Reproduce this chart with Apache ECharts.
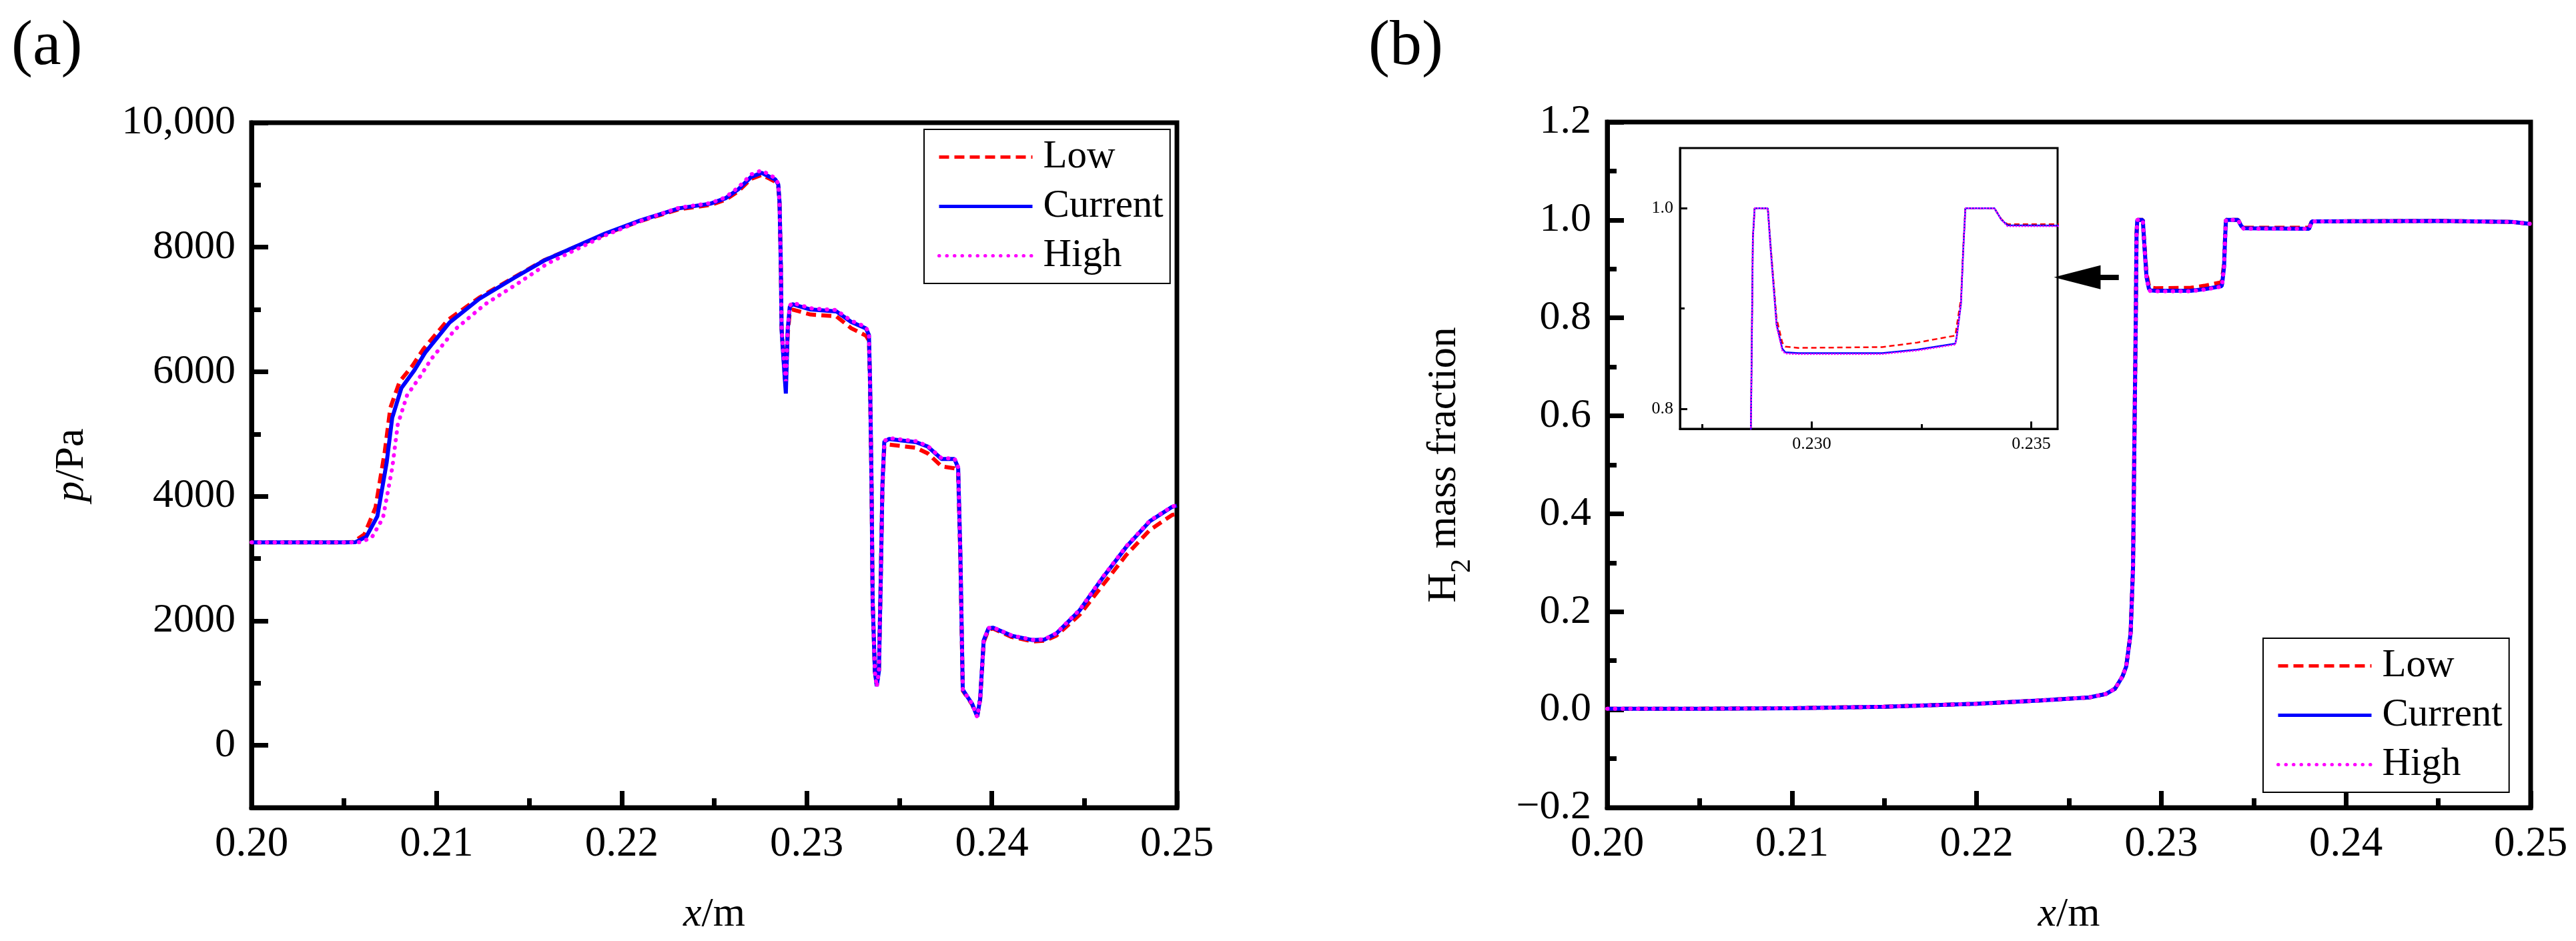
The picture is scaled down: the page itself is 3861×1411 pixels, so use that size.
<!DOCTYPE html>
<html>
<head>
<meta charset="utf-8">
<script src="https://cdn.jsdelivr.net/npm/echarts@6/dist/echarts.min.js"></script>
<style>
html, body { margin: 0; padding: 0; background: #fff; }
#chart { width: 3861px; height: 1411px; }
</style>
</head>
<body>
<div id="chart"></div>
<script>
// values
var seriesNames = ['Low', 'Current', 'High'];

var xTicks = [0.20, 0.21, 0.22, 0.23, 0.24, 0.25];
var xMinorTicks = [0.205, 0.215, 0.225, 0.235, 0.245];
var pTicks = [0, 2000, 4000, 6000, 8000, 10000];
var pMinorTicks = [1000, 3000, 5000, 7000, 9000];
var h2Ticks = [-0.2, 0, 0.2, 0.4, 0.6, 0.8, 1.0, 1.2];
var h2MinorTicks = [-0.1, 0.1, 0.3, 0.5, 0.7, 0.9, 1.1];
var insetXTicks = [0.230, 0.235];
var insetXMinorTicks = [0.2275, 0.2325];
var insetYTicks = [0.8, 1.0];
var insetYMinorTicks = [0.9];

// arrow from the zoomed curve to the inset (data coords of right panel)
var arrowLine = [[0.2277, 0.883], [0.22545, 0.883]];

// (a) pressure p/Pa vs x/m
var pLow = [[0.2000,3260],[0.2050,3260],[0.2055,3265],[0.2061,3390],[0.2067,3820],[0.2072,4720],[0.2075,5420],[0.2080,5840],[0.2087,6100],[0.2093,6370],[0.2106,6830],[0.2123,7190],[0.2142,7520],[0.2158,7790],[0.2191,8210],[0.2210,8420],[0.2231,8610],[0.2248,8680],[0.2256,8760],[0.2263,8900],[0.2270,9100],[0.22756,9160],[0.2280,9100],[0.2283,9050],[0.22846,8980],[0.22853,8700],[0.2286,7700],[0.22864,6700],[0.22873,6300],[0.22885,5780],[0.22897,6600],[0.22908,6950],[0.22922,7000],[0.2302,6920],[0.2316,6890],[0.2324,6700],[0.2332,6580],[0.23336,6500],[0.23342,5800],[0.2335,4200],[0.23356,2320],[0.23368,1195],[0.23378,980],[0.2339,1195],[0.2340,2700],[0.23409,4150],[0.23419,4800],[0.23444,4830],[0.2359,4780],[0.23653,4690],[0.23729,4480],[0.23798,4450],[0.23818,4380],[0.2383,3000],[0.23843,880],[0.23868,770],[0.23893,660],[0.23921,470],[0.23937,740],[0.23956,1660],[0.23982,1860],[0.24007,1875],[0.24108,1740],[0.24222,1670],[0.24285,1680],[0.24348,1760],[0.24475,2100],[0.24601,2580],[0.24727,3060],[0.24854,3460],[0.24974,3700],[0.2500,3720]];
var pCurrent = [[0.2000,3260],[0.2050,3260],[0.2056,3262],[0.2062,3350],[0.2068,3680],[0.2073,4540],[0.2076,5260],[0.2081,5740],[0.2088,6025],[0.2094,6315],[0.2107,6790],[0.2123,7170],[0.2142,7510],[0.2158,7785],[0.2191,8220],[0.2210,8430],[0.2231,8625],[0.2248,8700],[0.2256,8785],[0.2263,8930],[0.2270,9130],[0.22756,9195],[0.2280,9130],[0.2283,9090],[0.22846,9010],[0.22853,8720],[0.2286,7700],[0.22864,6675],[0.22873,6260],[0.22887,5650],[0.22897,6675],[0.22908,7040],[0.22922,7085],[0.2302,7000],[0.2316,6970],[0.2324,6800],[0.2332,6695],[0.23336,6590],[0.23342,5850],[0.2335,4200],[0.23356,2320],[0.23368,1195],[0.23378,950],[0.2339,1195],[0.2340,2700],[0.23409,4200],[0.23419,4880],[0.23444,4920],[0.2359,4870],[0.23653,4800],[0.23729,4600],[0.23798,4600],[0.23818,4460],[0.2383,3070],[0.23843,895],[0.23868,780],[0.23893,670],[0.23921,463],[0.23937,745],[0.23956,1685],[0.23982,1880],[0.24007,1890],[0.24108,1760],[0.24222,1690],[0.24285,1700],[0.24348,1795],[0.24475,2170],[0.24601,2700],[0.24727,3190],[0.24854,3600],[0.24974,3830],[0.2500,3850]];
var pHigh = [[0.2000,3260],[0.2050,3260],[0.2059,3262],[0.2065,3340],[0.2071,3650],[0.2076,4450],[0.2079,5150],[0.2084,5620],[0.2091,5920],[0.2097,6200],[0.2110,6680],[0.2126,7080],[0.2145,7440],[0.2160,7740],[0.2191,8190],[0.2210,8420],[0.2231,8635],[0.2248,8710],[0.2256,8800],[0.2263,8960],[0.2270,9170],[0.22756,9235],[0.2280,9160],[0.2283,9110],[0.22846,9020],[0.22853,8720],[0.2286,7700],[0.22864,6700],[0.22873,6300],[0.22887,5850],[0.22897,6700],[0.22908,7060],[0.22922,7110],[0.2302,7020],[0.2316,6990],[0.2324,6820],[0.2332,6720],[0.23336,6600],[0.23342,5850],[0.2335,4200],[0.23356,2320],[0.23368,1195],[0.23378,940],[0.2339,1195],[0.2340,2700],[0.23409,4200],[0.23419,4890],[0.23444,4935],[0.2359,4885],[0.23653,4810],[0.23729,4610],[0.23798,4610],[0.23818,4470],[0.2383,3070],[0.23843,895],[0.23868,780],[0.23893,670],[0.23921,455],[0.23937,745],[0.23956,1685],[0.23982,1885],[0.24007,1895],[0.24108,1765],[0.24222,1695],[0.24285,1705],[0.24348,1800],[0.24475,2180],[0.24601,2710],[0.24727,3200],[0.24854,3610],[0.24974,3835],[0.2500,3855]];

// (b) H2 mass fraction vs x/m
var h2Low = [[0.2000,0.002],[0.2050,0.002],[0.2100,0.003],[0.2150,0.006],[0.2200,0.012],[0.2235,0.019],[0.2261,0.025],[0.2270,0.032],[0.2275,0.043],[0.2279,0.068],[0.2281,0.088],[0.22834,0.156],[0.22847,0.29],[0.22856,0.6],[0.22862,0.8],[0.22866,0.97],[0.2287,1.0],[0.2290,1.0],[0.22907,0.96],[0.2292,0.89],[0.22933,0.866],[0.2294,0.862],[0.2297,0.8607],[0.2316,0.8615],[0.2324,0.866],[0.23327,0.873],[0.2334,0.91],[0.23345,0.96],[0.2335,1.0],[0.23416,1.0],[0.23432,0.989],[0.23446,0.984],[0.2380,0.984],[0.23815,0.997],[0.2450,0.998],[0.2490,0.996],[0.2500,0.992]];
var h2Current = [[0.2000,0.002],[0.2050,0.002],[0.2100,0.003],[0.2150,0.006],[0.2200,0.012],[0.2235,0.019],[0.2261,0.025],[0.2270,0.032],[0.2275,0.043],[0.2279,0.068],[0.2281,0.088],[0.22834,0.156],[0.22847,0.29],[0.22856,0.6],[0.22862,0.8],[0.22866,0.97],[0.2287,1.0],[0.2290,1.0],[0.22907,0.957],[0.2292,0.884],[0.22933,0.860],[0.2294,0.8563],[0.2297,0.8555],[0.2316,0.8555],[0.2324,0.859],[0.23327,0.865],[0.2333,0.871],[0.2334,0.905],[0.23345,0.957],[0.2335,1.0],[0.23416,1.0],[0.23432,0.9885],[0.23446,0.983],[0.2380,0.982],[0.23815,0.997],[0.2450,0.998],[0.2490,0.996],[0.2500,0.992]];
var h2High = [[0.2000,0.002],[0.2050,0.002],[0.2100,0.003],[0.2150,0.006],[0.2200,0.012],[0.2235,0.019],[0.2261,0.025],[0.2270,0.032],[0.2275,0.043],[0.2279,0.068],[0.2281,0.088],[0.22834,0.156],[0.22847,0.29],[0.22856,0.6],[0.22862,0.8],[0.22866,0.97],[0.2287,1.0],[0.2290,1.0],[0.22907,0.955],[0.2292,0.882],[0.22933,0.858],[0.2294,0.855],[0.2297,0.8545],[0.2316,0.8545],[0.2324,0.858],[0.23327,0.864],[0.2333,0.870],[0.2334,0.905],[0.23345,0.957],[0.2335,1.0],[0.23416,1.0],[0.23432,0.9885],[0.23446,0.982],[0.2380,0.982],[0.23815,0.997],[0.2450,0.998],[0.2490,0.996],[0.2500,0.992]];

var FONT = "'Liberation Serif', 'Times New Roman', serif";

function draw_chart() {
  var dom = document.getElementById('chart');
  var myChart = echarts.init(dom, null, { renderer: 'canvas' });

  var styles = {
    Low: { color: '#ff0000', width: 6, type: [15, 8], cap: 'butt' },
    Current: { color: '#0000ff', width: 6, type: 'solid', cap: 'butt' },
    High: { color: '#ff00ff', width: 6, type: [0.5, 11], cap: 'round' }
  };
  var insetStyles = {
    Low: { color: '#ff0000', width: 2.5, type: [8, 5], cap: 'butt' },
    Current: { color: '#0000ff', width: 2.5, type: 'solid', cap: 'butt' },
    High: { color: '#ff00ff', width: 2.5, type: [0.5, 4], cap: 'round' }
  };

  function lineSeries(name, data, axisIdx, st) {
    return {
      name: name,
      type: 'line',
      xAxisIndex: axisIdx,
      yAxisIndex: axisIdx,
      data: data,
      symbol: 'none',
      showSymbol: false,
      clip: true,
      color: st.color,
      lineStyle: { color: st.color, width: st.width, type: st.type, cap: st.cap },
      emphasis: { disabled: true }
    };
  }

  // axis carrying the line and labels, no ticks
  function labelAxis(grid, pos, min, max, ticks, fmt, fontSize, lineW, extra) {
    var a = {
      type: 'value', gridIndex: grid, position: pos, min: min, max: max,
      axisLine: { show: true, onZero: false, lineStyle: { color: '#000', width: lineW } },
      axisTick: { show: false },
      axisLabel: { show: true, customValues: ticks, formatter: fmt, color: '#000',
        fontSize: fontSize, fontFamily: FONT, margin: Math.round(fontSize * 0.38) },
      splitLine: { show: false }
    };
    return Object.assign(a, extra || {});
  }
  // companion axis that only draws inward ticks
  function tickAxis(grid, pos, min, max, ticks, lineW, tickLen) {
    return {
      type: 'value', gridIndex: grid, position: pos, min: min, max: max,
      axisLine: { show: false, onZero: false },
      axisTick: { show: true, inside: true, length: tickLen, customValues: ticks,
        lineStyle: { color: '#000', width: lineW } },
      axisLabel: { show: false },
      splitLine: { show: false }
    };
  }

  var nameStyle = {
    fontSize: 62, fontFamily: FONT, color: '#000',
    rich: {
      i: { fontSize: 62, fontFamily: FONT, fontStyle: 'italic', color: '#000' },
      n: { fontSize: 62, fontFamily: FONT, color: '#000' },
      s: { fontSize: 42, fontFamily: FONT, color: '#000', verticalAlign: 'bottom', lineHeight: 96 }
    }
  };

  var fx2 = function (v) { return v.toFixed(2); };
  var fx3 = function (v) { return v.toFixed(3); };
  var fx1 = function (v) { return v.toFixed(1); };
  var fp = function (v) { return v === 10000 ? '10,000' : String(v); };
  var fh = function (v) { return v < 0 ? '\u2212' + (-v).toFixed(1) : v.toFixed(1); };

  var legendData = seriesNames.map(function (n) {
    var st = styles[n];
    return {
      name: n,
      itemStyle: { opacity: 0 },
      lineStyle: { color: st.color, width: 5, type: st.type, cap: st.cap }
    };
  });

  var legendBase = {
    orient: 'vertical',
    data: legendData,
    itemWidth: 140,
    itemHeight: 16,
    itemGap: 15,
    padding: [12, 10, 12, 20],
    backgroundColor: '#fff',
    borderColor: '#000',
    borderWidth: 2,
    selectedMode: false,
    textStyle: { fontSize: 59, fontFamily: FONT, color: '#000', padding: [0, 0, 0, 11] }
  };

  var option = {
    animation: false,
    backgroundColor: '#fff',
    title: [
      { text: '(a)', left: 12, top: 18, textStyle: { fontSize: 96, fontWeight: 'normal', fontFamily: FONT, color: '#000' } },
      { text: '(b)', left: 2046, top: 18, textStyle: { fontSize: 96, fontWeight: 'normal', fontFamily: FONT, color: '#000' } }
    ],
    legend: [
      Object.assign({}, legendBase, { left: 1385, top: 194 }),
      Object.assign({}, legendBase, { left: 3392, top: 957 })
    ],
    grid: [
      { left: 377, top: 184, width: 1387, height: 1027, show: true, borderColor: '#000', borderWidth: 7, backgroundColor: 'transparent', outerBoundsMode: 'none' },
      { left: 2409, top: 183, width: 1384, height: 1028, show: true, borderColor: '#000', borderWidth: 7, backgroundColor: 'transparent', outerBoundsMode: 'none' },
      { left: 2518, top: 222, width: 566, height: 421, show: true, borderColor: '#000', borderWidth: 3, backgroundColor: '#fff', outerBoundsMode: 'none' }
    ],
    xAxis: [
      labelAxis(0, 'bottom', 0.20, 0.25, xTicks, fx2, 63, 7, {
        name: '{i|x}{n|/m}', nameLocation: 'middle', nameGap: 130, nameTextStyle: nameStyle }),
      tickAxis(0, 'bottom', 0.20, 0.25, xTicks, 7, 25),
      tickAxis(0, 'bottom', 0.20, 0.25, xMinorTicks, 7, 14),
      labelAxis(1, 'bottom', 0.20, 0.25, xTicks, fx2, 63, 7, {
        name: '{i|x}{n|/m}', nameLocation: 'middle', nameGap: 130, nameTextStyle: nameStyle }),
      tickAxis(1, 'bottom', 0.20, 0.25, xTicks, 7, 25),
      tickAxis(1, 'bottom', 0.20, 0.25, xMinorTicks, 7, 14),
      labelAxis(2, 'bottom', 0.227, 0.2356, insetXTicks, fx3, 26, 3),
      tickAxis(2, 'bottom', 0.227, 0.2356, insetXTicks, 3, 11),
      tickAxis(2, 'bottom', 0.227, 0.2356, insetXMinorTicks, 3, 7)
    ],
    yAxis: [
      labelAxis(0, 'left', -1000, 10000, pTicks, fp, 62, 7, {
        name: '{i|p}{n|/Pa}', nameLocation: 'middle', nameGap: 238, nameTextStyle: nameStyle }),
      tickAxis(0, 'left', -1000, 10000, pTicks, 7, 25),
      tickAxis(0, 'left', -1000, 10000, pMinorTicks, 7, 14),
      labelAxis(1, 'left', -0.2, 1.2, h2Ticks, fh, 62, 7, {
        name: '{n|H}{s|2}{n| mass fraction}', nameLocation: 'middle', nameGap: 196, nameTextStyle: nameStyle }),
      tickAxis(1, 'left', -0.2, 1.2, h2Ticks, 7, 25),
      tickAxis(1, 'left', -0.2, 1.2, h2MinorTicks, 7, 14),
      labelAxis(2, 'left', 0.78, 1.06, insetYTicks, fx1, 26, 3),
      tickAxis(2, 'left', 0.78, 1.06, insetYTicks, 3, 11),
      tickAxis(2, 'left', 0.78, 1.06, insetYMinorTicks, 3, 7)
    ],
    series: []
  };

  var pData = { Low: pLow, Current: pCurrent, High: pHigh };
  var hData = { Low: h2Low, Current: h2Current, High: h2High };

  seriesNames.forEach(function (n) {
    option.series.push(lineSeries(n, pData[n], 0, styles[n]));
  });
  seriesNames.forEach(function (n) {
    var s = lineSeries(n, hData[n], 3, styles[n]);
    if (n === 'Current') {
      s.markLine = {
        silent: true,
        animation: false,
        symbol: ['none', 'triangle'],
        symbolSize: [36, 70],
        label: { show: false },
        emphasis: { disabled: true },
        lineStyle: { color: '#000', width: 8, type: 'solid' },
        data: [[{ coord: arrowLine[0] }, { coord: arrowLine[1] }]]
      };
    }
    option.series.push(s);
  });
  seriesNames.forEach(function (n) {
    var s = lineSeries(n, hData[n], 6, insetStyles[n]);
    s.z = 5;
    option.series.push(s);
  });

  myChart.setOption(option);
  window.onresize = myChart.resize;
}

draw_chart();
</script>
</body>
</html>
